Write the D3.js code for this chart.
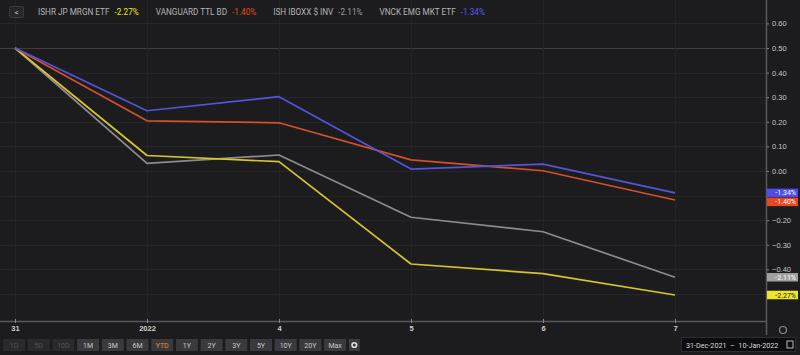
<!DOCTYPE html>
<html><head><meta charset="utf-8">
<script src="https://cdn.jsdelivr.net/npm/d3@7"></script>
<style>
html,body{margin:0;padding:0;background:#1c1c1f;overflow:hidden}
svg{display:block;font-family:Roboto,"Liberation Sans",sans-serif}
</style></head><body>
<svg id="c" width="800" height="355"></svg>
<script>
const categories = ["31","2022","4","5","6","7"];
const seriesNames = ["ISHR JP MRGN ETF","VANGUARD TTL BD","ISH IBOXX $ INV","VNCK EMG MKT ETF"];
const seriesChange = ["-2.27%","-1.40%","-2.11%","-1.34%"];
const ishrJp   = [0.50, 0.063, 0.038, -0.378, -0.417, -0.504];
const vanguard = [0.50, 0.204, 0.196, 0.045, 0.001, -0.118];
const ishIboxx = [0.50, 0.031, 0.065, -0.188, -0.247, -0.432];
const vnckEmg  = [0.50, 0.245, 0.302, 0.008, 0.028, -0.089];
const yTicks = [-0.5,-0.4,-0.3,-0.2,-0.1,0,0.1,0.2,0.3,0.4,0.5,0.6];
const rangeButtons = ["1D","5D","10D","1M","3M","6M","YTD","1Y","2Y","3Y","5Y","10Y","20Y","Max"];
const disabledButtons = ["1D","5D","10D"];
const activeButton = "YTD";
const dateRange = "31-Dec-2021  \u2013  10-Jan-2022";

const lineColors = ["#d8c42c","#d4502a","#8c8c8c","#5454d8"];
const boxColors  = ["#ece626","#e8481c","#a0a0a0","#4c4cf0"];
const legendValColors = ["#ece626","#e8481c","#9a9a9a","#5a5af0"];
const boxText    = ["#222","#fff","#fff","#fff"];
const series = [ishrJp, vanguard, ishIboxx, vnckEmg];

const svg = d3.select("#c");
const plotRight = 766, plotBottom = 321;
const x = d3.scalePoint().domain(categories).range([15, 675]);
const y = d3.scaleLinear().domain([0, 0.5]).range([171, 48]);

// end-label positions (collision avoidance)
const bh = 8.5;
let labs = series.map((s,k)=>({k, yc:y(s[s.length-1])})).sort((a,b)=>a.yc-b.yc);
for(let i=1;i<labs.length;i++){ if(labs[i].yc < labs[i-1].yc+bh+0.5) labs[i].yc = labs[i-1].yc+bh+0.5; }
const covered = v => labs.some(l => Math.abs(y(v)-l.yc) < bh/2+0.5);

// grid
const g = svg.append("g");
g.selectAll("line.hg").data(yTicks).join("line")
  .attr("x1",0).attr("x2",plotRight)
  .attr("y1",d=>Math.round(y(d))+0.5).attr("y2",d=>Math.round(y(d))+0.5)
  .attr("stroke",d=>Math.abs(d-0.5)<1e-9?"#3e3e42":"#262629").attr("stroke-width",1);
g.selectAll("line.vg").data(categories).join("line")
  .attr("x1",d=>x(d)+0.5).attr("x2",d=>x(d)+0.5).attr("y1",0).attr("y2",plotBottom)
  .attr("stroke","#242427");

// bottom axis
const xa = svg.append("g").attr("transform",`translate(0,${plotBottom})`)
  .call(d3.axisBottom(x).tickSize(0).tickPadding(5));
xa.select(".domain").remove();
svg.append("line").attr("x1",0).attr("x2",plotRight).attr("y1",plotBottom+0.5).attr("y2",plotBottom+0.5)
  .attr("stroke","#58585c").attr("stroke-width",1.5);
svg.selectAll("line.xt").data(categories).join("line")
  .attr("x1",d=>x(d)+0.5).attr("x2",d=>x(d)+0.5).attr("y1",plotBottom-2).attr("y2",plotBottom+2)
  .attr("stroke","#888");
xa.selectAll("text").attr("fill","#d0d0d0").attr("font-size",7.5).attr("font-weight","bold");

// right axis
const ya = svg.append("g").attr("transform",`translate(${plotRight},0)`)
  .call(d3.axisRight(y).tickValues(yTicks.filter(v=>!covered(v))).tickFormat(d3.format(".2f")).tickSize(3).tickPadding(3));
ya.select(".domain").remove();
ya.selectAll("line").attr("stroke","#888");
ya.selectAll("text").attr("fill","#c8c8c8").attr("font-size",7.5);
svg.append("line").attr("x1",plotRight+0.5).attr("x2",plotRight+0.5).attr("y1",0).attr("y2",335)
  .attr("stroke","#5a5a5e").attr("stroke-width",1.5);

// lines
const line = d3.line().x((d,i)=>x(categories[i])).y(d=>y(d));
[2,0,1,3].forEach(k=>{
  svg.append("path").datum(series[k]).attr("d",line).attr("fill","none")
    .attr("stroke",lineColors[k]).attr("stroke-width",1.7).attr("stroke-linejoin","round");
});

// end labels
labs.forEach(l=>{
  svg.append("rect").attr("x",plotRight+1).attr("y",l.yc-bh/2).attr("width",31).attr("height",bh)
    .attr("fill",boxColors[l.k]);
  svg.append("text").attr("x",plotRight+30).attr("y",l.yc+2.6).attr("text-anchor","end")
    .attr("font-size",7).attr("fill",boxText[l.k]).text(seriesChange[l.k]);
});

// legend
svg.append("rect").attr("x",9.5).attr("y",6.5).attr("width",14).attr("height",11).attr("rx",1)
  .attr("fill","#26262a").attr("stroke","#3a3a3e");
svg.append("text").attr("x",16.5).attr("y",14.5).attr("text-anchor","middle").attr("font-size",8)
  .attr("fill","#ccc").text("<");
let lx = 38;
seriesNames.forEach((n,k)=>{
  const t = svg.append("text").attr("x",lx).attr("y",15).attr("font-size",8.2).attr("fill","#b4b4b4").text(n);
  lx += t.node().getComputedTextLength() + 5;
  const v = svg.append("text").attr("x",lx).attr("y",15).attr("font-size",8.2).attr("fill",legendValColors[k]).text(seriesChange[k]);
  lx += v.node().getComputedTextLength() + 17;
});

// range buttons
rangeButtons.forEach((b,i)=>{
  const bx = 3 + i*24.7;
  const dis = disabledButtons.includes(b);
  svg.append("rect").attr("x",bx).attr("y",339).attr("width",22).attr("height",12)
    .attr("fill",dis?"#2a2a2d":"#3a3a3e");
  svg.append("text").attr("x",bx+11).attr("y",348).attr("text-anchor","middle").attr("font-size",7)
    .attr("fill",b===activeButton?"#e58a3c":(dis?"#505054":"#c8c8c8")).text(b);
});
{
  const bx = 3 + rangeButtons.length*24.7;
  svg.append("rect").attr("x",bx).attr("y",339).attr("width",11).attr("height",12).attr("fill","#3a3a3e");
  svg.append("circle").attr("cx",bx+5.5).attr("cy",345).attr("r",2.3).attr("fill","none").attr("stroke","#ddd").attr("stroke-width",1.6);
}

// gear at right
svg.append("circle").attr("cx",783).attr("cy",330).attr("r",3.5).attr("fill","none").attr("stroke","#888").attr("stroke-width",1.2);

// date range box
svg.append("rect").attr("x",681.5).attr("y",337.5).attr("width",114).attr("height",14)
  .attr("fill","#0c0c0e").attr("stroke","#2e2e32");
svg.append("text").attr("x",686).attr("y",347.5).attr("font-size",7.2).attr("fill","#d8d8d8")
  .style("white-space","pre").text(dateRange);
svg.append("rect").attr("x",787).attr("y",341).attr("width",6).attr("height",7).attr("fill","none").attr("stroke","#bbb");
</script></body></html>
